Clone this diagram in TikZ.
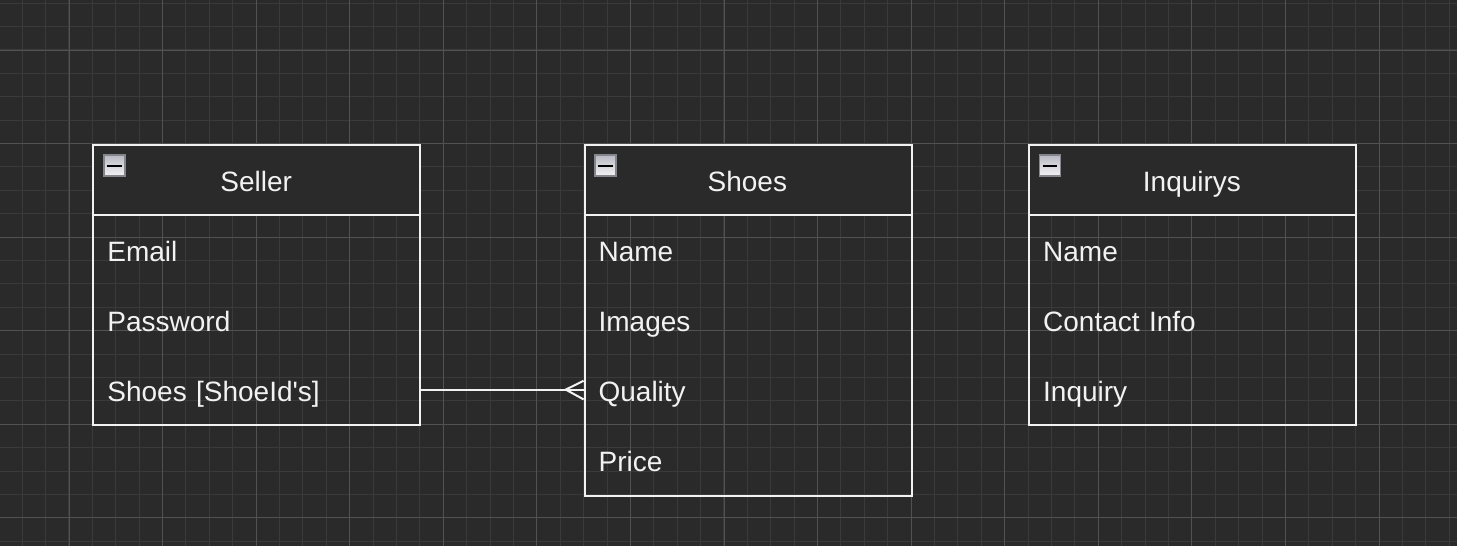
\documentclass[tikz,border=0pt]{standalone}
\usepackage{fontspec}
\setmainfont{Liberation Sans}
\definecolor{bgc}{HTML}{2A2A2A}
\definecolor{minorc}{HTML}{3A3A3A}
\definecolor{majorc}{HTML}{525252}
\definecolor{fgc}{HTML}{F2F2F2}
\definecolor{icontop}{HTML}{B8B8C2}
\definecolor{iconbot}{HTML}{F4F4F6}
\definecolor{iconedge}{HTML}{85858D}
\tikzset{
  minorgrid/.style={draw=minorc, line width=0.5pt},
  majorgrid/.style={draw=majorc, line width=0.5pt},
  enthead/.style={draw=fgc, fill=bgc, line width=1pt, minimum width=163.5pt, minimum height=35.1pt, inner sep=0pt, anchor=north west},
  entframe/.style={draw=fgc, line width=1pt, minimum width=163.5pt, inner sep=0pt, anchor=north west},
  titletext/.style={text=fgc, font=\fontsize{14pt}{16pt}\selectfont, inner sep=0pt, anchor=base},
  rowcell/.style={text=fgc, font=\fontsize{14pt}{16pt}\selectfont, minimum width=163.5pt, minimum height=35.1pt, text width=148.9pt, inner xsep=7.3pt, inner ysep=0pt, align=left, text height=11.5pt, text depth=0pt, anchor=north west},
  erbtn/.style={draw=iconedge, line width=0.7pt, top color=icontop, bottom color=iconbot, minimum size=10.5pt, inner sep=0pt, anchor=north west},
  erminus/.style={draw=black, line width=1pt},
  conn/.style={draw=fgc, line width=1pt},
}
\begin{document}
\begin{tikzpicture}[x=0.5pt,y=-0.5pt]
\useasboundingbox (0,0) rectangle (1457,546);
\fill[bgc] (0,0) rectangle (1457,546);
% grid
\foreach \k in {0,...,62}{\pgfmathsetmacro\gx{-1.2+\k*23.393}\draw[minorgrid] (\gx,0) -- (\gx,546);}
\foreach \k in {0,...,23}{\pgfmathsetmacro\gy{3.2+\k*23.393}\draw[minorgrid] (0,\gy) -- (1457,\gy);}
\foreach \k in {0,...,15}{\pgfmathsetmacro\gx{69+\k*93.572}\draw[majorgrid] (\gx,0) -- (\gx,546);}
\foreach \k in {0,...,5}{\pgfmathsetmacro\gy{50+\k*93.572}\draw[majorgrid] (0,\gy) -- (1457,\gy);}

% Seller
\node[enthead] (sellerhead) at (92.4,143.6) {};
\node[entframe, minimum height=140.35pt] (seller) at (92.4,143.6) {};
\node[titletext] (sellertitle) at (256.15,191.8) {Seller};
\node[erbtn] (sellerbtn) at (103.3,154.3) {};
\draw[erminus] ([xshift=2pt]sellerbtn.west) -- ([xshift=-2pt]sellerbtn.east);
\node[rowcell] (selleremail) at (92.4,214.3) {Email};
\node[rowcell] (sellerpass) at (92.4,284.3) {Password};
\node[rowcell] (sellershoes) at (92.4,354.1) {Shoes [ShoeId\textquotesingle s]};

% Shoes
\node[enthead] (shoeshead) at (583.6,143.6) {};
\node[entframe, minimum height=175.45pt] (shoes) at (583.6,143.6) {};
\node[titletext] (shoestitle) at (747.35,191.8) {Shoes};
\node[erbtn] (shoesbtn) at (594.3,154.3) {};
\draw[erminus] ([xshift=2pt]shoesbtn.west) -- ([xshift=-2pt]shoesbtn.east);
\node[rowcell] (shoesname) at (583.6,214.3) {Name};
\node[rowcell] (shoesimages) at (583.6,284.3) {Images};
\node[rowcell] (shoesquality) at (583.6,354.1) {Quality};
\node[rowcell] (shoesprice) at (583.6,424.3) {Price};

% Inquirys
\node[enthead] (inqhead) at (1028.2,143.6) {};
\node[entframe, minimum height=140.35pt] (inq) at (1028.2,143.6) {};
\node[titletext] (inqtitle) at (1191.95,191.8) {Inquirys};
\node[erbtn] (inqbtn) at (1038.9,154.3) {};
\draw[erminus] ([xshift=2pt]inqbtn.west) -- ([xshift=-2pt]inqbtn.east);
\node[rowcell] (inqname) at (1028.2,214.3) {Name};
\node[rowcell] (inqcontact) at (1028.2,284.3) {Contact Info};
\node[rowcell] (inqinquiry) at (1028.2,354.1) {Inquiry};

% connector with crow's foot
\coordinate (cftip) at ([xshift=-8.95pt]shoesquality.west);
\draw[conn] (sellershoes.east) -- (shoesquality.west);
\draw[conn] ([yshift=4.4pt]shoesquality.west) -- (cftip) -- ([yshift=-4.9pt]shoesquality.west);
\end{tikzpicture}
\end{document}
